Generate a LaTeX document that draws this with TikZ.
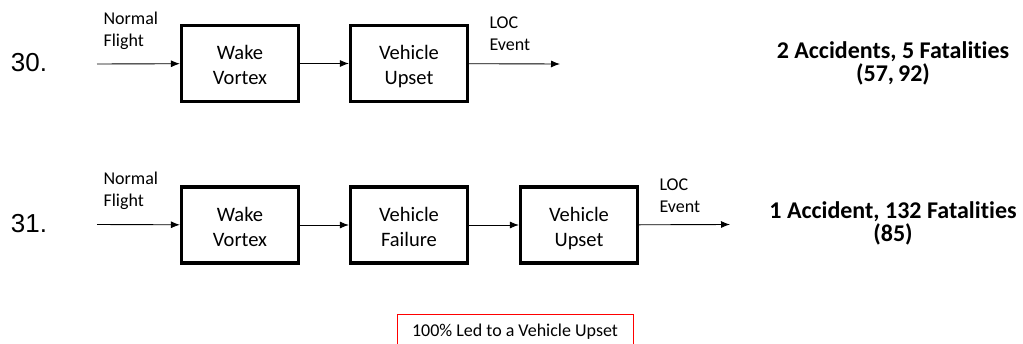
\documentclass[tikz,border=0pt]{standalone}
\usepackage{fontspec}
\setmainfont{Carlito}[Ligatures=NoCommon]
\newfontfamily\arialfont{Liberation Sans}
\usetikzlibrary{arrows.meta}
\newcommand{\vstrut}{\rule[-4pt]{0pt}{25pt}}
\newcommand{\twoline}[2]{\vstrut#1\\\vstrut#2}
\tikzset{
  block/.style={draw, line width=3.2pt, minimum width=117pt, minimum height=76pt,
    align=center, font=\fontsize{20.5}{25}\selectfont},
  flowlbl/.style={align=left, anchor=west, font=\fontsize{18}{22}\selectfont},
  rownum/.style={font=\arialfont\fontsize{26}{30}\selectfont},
  tally/.style={align=center, font=\bfseries\fontsize{24}{23}\selectfont},
  flow/.style={->, line width=0.9pt},
}
\begin{document}
\begin{tikzpicture}[x=1pt, y=-1pt, >={Latex[length=9pt,width=7pt]}]
\useasboundingbox (0,0) rectangle (1023,343);
% case 30
\begin{scope}
    \node[rownum] (num30) at (29,63) {30.};
    \coordinate (in30) at (97,64);
    \node[block] (wake30) at (240,63.5) {\twoline{Wake}{Vortex}};
    \node[block] (upset30) at (409,63.5) {\twoline{Vehicle}{Upset}};
    \coordinate (out30) at (560,64);
    \node[flowlbl] (nf30) at (100,31) {Normal\\Flight};
    \node[flowlbl] (loc30) at (486,34) {LOC\\Event};
    \draw[flow] (in30) -- (wake30);
    \draw[flow] (wake30) -- (upset30);
    \draw[flow] (upset30) -- (out30);
    \node[tally] (sum30) at (893,63) {2 Accidents, 5 Fatalities\\(57,\,92)};
\end{scope}
% case 31
\begin{scope}
    \node[rownum] (num31) at (29,224) {31.};
    \coordinate (in31) at (97,224.5);
    \node[block] (wake31) at (240,225) {\twoline{Wake}{Vortex}};
    \node[block] (fail31) at (409,225) {\twoline{Vehicle}{Failure}};
    \node[block] (upset31) at (579,225) {\twoline{Vehicle}{Upset}};
    \coordinate (out31) at (730,224.5);
    \node[flowlbl] (nf31) at (100,190.5) {Normal\\Flight};
    \node[flowlbl] (loc31) at (656,195.5) {LOC\\Event};
    \draw[flow] (in31) -- (wake31);
    \draw[flow] (wake31) -- (fail31);
    \draw[flow] (fail31) -- (upset31);
    \draw[flow] (upset31) -- (out31);
    \node[tally] (sum31) at (893,223) {1 Accident, 132 Fatalities\\(85)};
\end{scope}
\node[draw=red, line width=0.8pt, minimum width=236pt, minimum height=36pt,
    font=\fontsize{18}{20}\selectfont] (note) at (515,332) {100\% Led to a Vehicle Upset};
\end{tikzpicture}
\end{document}
